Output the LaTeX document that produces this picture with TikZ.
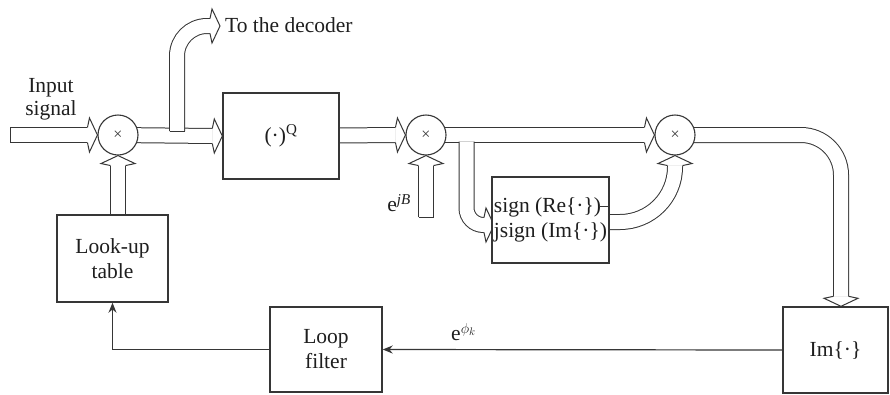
\documentclass[tikz,border=0pt]{standalone}
\usepackage{fontspec}
\setmainfont{Liberation Serif}
\usetikzlibrary{calc,arrows.meta}
\definecolor{lc}{HTML}{363636}
\definecolor{tc}{HTML}{1E1E1E}
\pgfdeclarelayer{bg}
\pgfsetlayers{bg,main}
\newcommand\hR[1]{\draw[headst, shift={#1}] (-10,-7.5) -- (-8,-17) -- (0,0) -- (-8,17) -- (-10,7.5);}
\newcommand\hU[1]{\draw[headst, shift={#1}] (-7.5,10) -- (-17,8) -- (0,0) -- (17,8) -- (7.5,10);}
\newcommand\hD[1]{\draw[headst, shift={#1}] (-7.5,-10) -- (-17,-8) -- (0,0) -- (17,-8) -- (7.5,-10);}
\begin{document}
\begin{tikzpicture}[x=1pt,y=-1pt,
  band/.style={draw=lc, line width=1pt, double=white, double distance=14pt},
  headst/.style={draw=lc, fill=white, line width=1pt, line join=miter},
  endcap/.style={draw=lc, line width=1pt},
  blk/.style={draw=lc, line width=1.4pt, fill=white, inner sep=0pt, align=center, text=tc, font=\fontsize{21.5}{25}\selectfont},
  mult/.style={circle, draw=lc, line width=1.1pt, fill=white, minimum size=40pt, inner sep=0pt, text=lc, font=\fontsize{16}{16}\selectfont},
  lbl/.style={text=tc, font=\fontsize{21.5}{23}\selectfont, inner sep=0pt},
  sig/.style={draw=lc, line width=1.2pt, -{Stealth[length=10pt,width=8pt]}}
]
\useasboundingbox (0,0) rectangle (890,394);

% blocks
\node[mult] (m1) at (118,135) {×};
\node[mult] (m2) at (426,135) {×};
\node[mult] (m3) at (675,135) {×};
\node[blk, minimum width=116pt, minimum height=86pt] (q) at (281,136) {(·)\textsuperscript{Q}};
\node[blk, minimum width=111pt, minimum height=87pt] (lut) at (112.5,258.5) {Look-up\\table};
\node[blk, minimum width=112pt, minimum height=85pt] (lf) at (326,349.5) {Loop\\filter};
\node[blk, minimum width=105pt, minimum height=86pt] (im) at (835.5,350) {Im\{·\}};
\node[blk, minimum width=117pt, minimum height=86pt, align=left] (sg) at (550.5,220) {sign (Re\{·\})\\jsign (Im\{·\})};
\draw[lc, line width=0.9pt] ($(sg.east)+(-11,-14)$) -- ($(sg.east)+(0,-14)$);

% labels
\node[lbl, align=center] (inp) at (51,99) {Input\\signal};
\node[lbl, anchor=west] (dect) at (225,25) {To the decoder};
\node[lbl, anchor=east] (ejb) at (411,203) {e\textsuperscript{\textit{jB}}};
\node[lbl, anchor=west] (ephi) at (451,332) {e$^{\phi_k}$};

% thin signal arrows
\draw[sig] (im.west) -- (lf.east);
\draw[sig] (lf.west) -| (lut.south);

\begin{pgfonlayer}{bg}
% input
\coordinate (in) at (10,135);
\draw[band] (in) -- ($(m1.west)+(-10,0)$);
\draw[endcap] ($(in)+(0,-7.5)$) -- ($(in)+(0,7.5)$);
\hR{(m1.west)}
% m1 -> (.)^Q
\draw[band] (m1.center) -- ($(q.west)+(-10,0)$);
\hR{(q.west)}
% to the decoder
\coordinate (db) at (177,131);
\coordinate (dt) at (220,26);
\draw[band, rounded corners=30pt] (db) |- ($(dt)+(-10,0)$);
\draw[endcap] ($(db)+(-7.5,0)$) -- ($(db)+(7.5,0)$);
\hR{(dt)}
% (.)^Q -> m2
\draw[band] (q.center) -- ($(m2.west)+(-10,0)$);
\hR{(m2.west)}
% m2 -> m3
\draw[band] (m2.center) -- ($(m3.west)+(-10,0)$);
\hR{(m3.west)}
% branch to sign block
\coordinate (bs) at (466.5,141.5);
\coordinate (bt) at (494,225);
\draw[band, rounded corners=17pt] (bs) |- ($(bt)+(-10,0)$);
\hR{(bt)}
% sign block -> m3
\draw[band, rounded corners=55pt] ($(sg.center)+(0,2)$) -| ($(m3.south)+(0,10)$);
\hU{(m3.south)}
% e^{jB} -> m2
\coordinate (jb) at (426,217);
\draw[band] (jb) -- ($(m2.south)+(0,10)$);
\draw[endcap] ($(jb)+(-7.5,0)$) -- ($(jb)+(7.5,0)$);
\hU{(m2.south)}
% look-up table -> m1
\draw[band] (lut.center -| m1.south) -- ($(m1.south)+(0,10)$);
\hU{(m1.south)}
% m3 -> Im
\draw[band, rounded corners=40pt] (m3.center) -| ($(im.north)+(5.5,-10)$);
\hD{($(im.north)+(5.5,0)$)}
\end{pgfonlayer}
\end{tikzpicture}
\end{document}
